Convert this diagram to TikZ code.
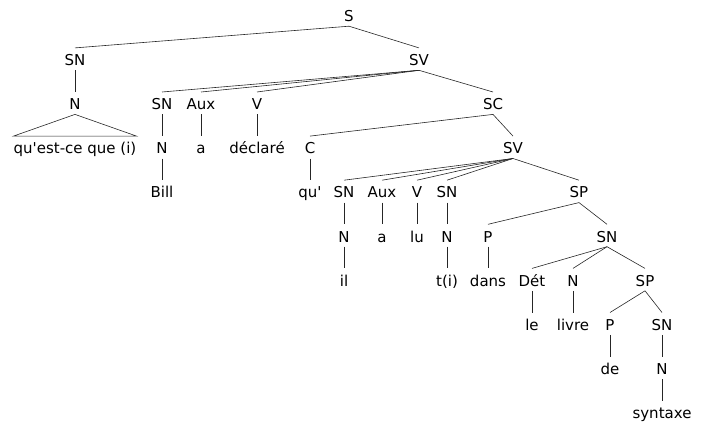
\documentclass[tikz,border=0pt]{standalone}
\usepackage{fontspec}
\setmainfont{DejaVu Sans}

\begin{document}
\begin{tikzpicture}[x=1pt,y=-1pt]
    \tikzset{cat/.style={anchor=base,inner sep=0pt,text height=17.5pt,text depth=4.5pt,font=\fontsize{15}{18}\selectfont},
             br/.style={line width=.6pt,black!85}}
    \useasboundingbox (0,0) rectangle (701,428);

    \node[cat] (S) at (349,21.5) {S};

    \node[cat] (SN) at (75,65.6) {SN};
    \node[cat] (SV) at (419,65.6) {SV};

    \node[cat] (N) at (75,109.7) {N};
    \node[cat] (SNa) at (162,109.7) {SN};
    \node[cat] (Aux) at (201,109.7) {Aux};
    \node[cat] (V) at (257,109.7) {V};
    \node[cat] (SC) at (493,109.7) {SC};

    \node[cat] (quest) at (75,153.8) {qu\textquotesingle est-ce que (i)};
    \node[cat] (Na) at (162,153.8) {N};
    \node[cat] (a) at (201,153.8) {a};
    \node[cat] (decl) at (257,153.8) {déclaré};
    \node[cat] (C) at (310,153.8) {C};
    \node[cat] (SVb) at (513,153.8) {SV};

    \node[cat] (Bill) at (162,197.9) {Bill};
    \node[cat] (qu) at (310,197.9) {qu\textquotesingle};
    \node[cat] (SNb) at (344,197.9) {SN};
    \node[cat] (Auxb) at (382,197.9) {Aux};
    \node[cat] (Vb) at (417,197.9) {V};
    \node[cat] (SNc) at (447,197.9) {SN};
    \node[cat] (SP) at (579,197.9) {SP};

    \node[cat] (Nb) at (344,242) {N};
    \node[cat] (ab) at (382,242) {a};
    \node[cat] (lu) at (417,242) {lu};
    \node[cat] (Nc) at (447,242) {N};
    \node[cat] (P) at (488,242) {P};
    \node[cat] (SNd) at (607,242) {SN};

    \node[cat] (il) at (344,286.1) {il};
    \node[cat] (ti) at (447,286.1) {t(i)};
    \node[cat] (dans) at (488,286.1) {dans};
    \node[cat] (Det) at (532,286.1) {Dét};
    \node[cat] (Nd) at (573,286.1) {N};
    \node[cat] (SPb) at (645,286.1) {SP};

    \node[cat] (le) at (532,330.2) {le};
    \node[cat] (livre) at (573,330.2) {livre};
    \node[cat] (Pb) at (610,330.2) {P};
    \node[cat] (SNe) at (662,330.2) {SN};

    \node[cat] (de) at (610,374.3) {de};
    \node[cat] (Ne) at (662,374.3) {N};

    \node[cat] (synt) at (662,418.4) {syntaxe};

    % branches
    \foreach \p/\c in {S/SN,S/SV,SN/N,SV/SNa,SV/Aux,SV/V,SV/SC,SNa/Na,Aux/a,V/decl,SC/C,SC/SVb,
                       Na/Bill,C/qu,SVb/SNb,SVb/Auxb,SVb/Vb,SVb/SNc,SVb/SP,SNb/Nb,Auxb/ab,Vb/lu,SNc/Nc,
                       SP/P,SP/SNd,Nc/ti,Nb/il,P/dans,SNd/Det,SNd/Nd,SNd/SPb,Det/le,Nd/livre,SPb/Pb,SPb/SNe,
                       Pb/de,SNe/Ne,Ne/synt}
        \draw[br] (\p.south) -- (\c.north);

    % roof over the wh-phrase
    \draw[br] (N.south) -- (quest.north west) -- (quest.north east) -- cycle;
\end{tikzpicture}
\end{document}
